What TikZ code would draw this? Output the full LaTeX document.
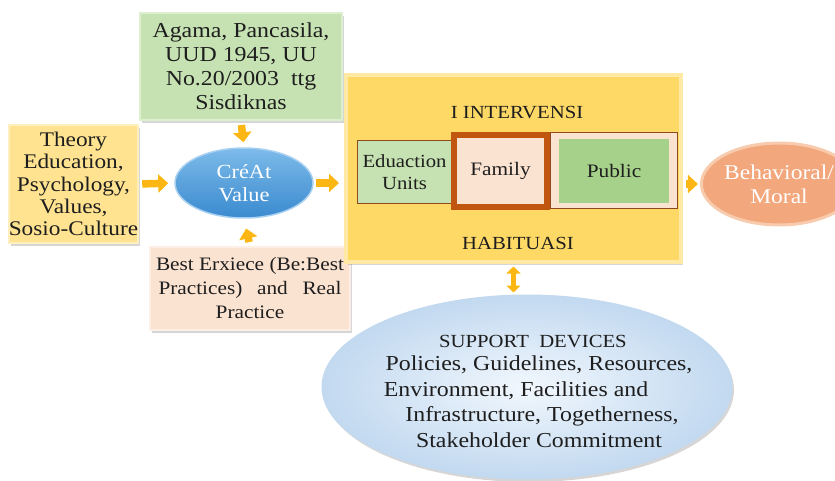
\documentclass[tikz,border=0pt]{standalone}
\usepackage{fontspec}
\setmainfont{Liberation Serif}[FakeStretch=1.12]
\usetikzlibrary{shapes.geometric,arrows.meta,shadows}

\definecolor{ink}{HTML}{1E1E1E}
\definecolor{greenfill}{HTML}{C6E2B2}
\definecolor{greenrim}{HTML}{DCEFCE}
\definecolor{theoryfill}{HTML}{FFE391}
\definecolor{theoryrim}{HTML}{FFEFBE}
\definecolor{pinkfill}{HTML}{FBE3D2}
\definecolor{pinkrim}{HTML}{FDEFE5}
\definecolor{yellowfill}{HTML}{FFD966}
\definecolor{yellowrim}{HTML}{FFE9A4}
\definecolor{brownline}{HTML}{8E4A1E}
\definecolor{familyline}{HTML}{C0560F}
\definecolor{publicgreen}{HTML}{A6D18A}
\definecolor{bluetop}{HTML}{7DBBEA}
\definecolor{bluebottom}{HTML}{3A8ACF}
\definecolor{bluerim}{HTML}{A9D0F0}
\definecolor{salmon}{HTML}{F3A77C}
\definecolor{salmonrim}{HTML}{F8CBAE}
\definecolor{skyin}{HTML}{F1F7FD}
\definecolor{skyout}{HTML}{C2D9F0}
\definecolor{arrowc}{HTML}{FCB714}

\begin{document}
\begin{tikzpicture}[x=1pt,y=-1pt,
  box/.style={rectangle, inner sep=0pt, align=center, text=ink},
  softshadow/.style={drop shadow={shadow xshift=2pt,shadow yshift=-3pt,opacity=0.16,fill=black}},
  bubble/.style={ellipse, inner sep=0pt, align=center},
  flow/.style={draw=arrowc, line width=7.5pt, -{Triangle[width=18pt,length=10pt]}},
  twoway/.style={draw=arrowc, line width=5pt, {Triangle[width=14pt,length=7pt]}-{Triangle[width=14pt,length=7pt]}}
]
\useasboundingbox (0,0) rectangle (835,481);
\clip (0,0) rectangle (835,481);

% source boxes
\node[box, softshadow, fill=greenfill, draw=greenrim, line width=2pt,
      minimum width=202pt, minimum height=107pt,
      font=\fontsize{21.3}{24}\selectfont] (green) at (241,66.5)
  {Agama, Pancasila,\\UUD 1945, UU\\No.20/2003\ \ ttg\\Sisdiknas};

\node[box, softshadow, fill=theoryfill, draw=theoryrim, line width=2pt,
      minimum width=125pt, minimum height=117pt,
      font=\fontsize{20.8}{22.3}\selectfont] (theory) at (73.5,184)
  {Theory\\Education,\\Psychology,\\Values,\\Sosio-Culture};

\node[box, softshadow, fill=pinkfill, draw=pinkrim, line width=2pt,
      minimum width=200pt, minimum height=83pt,
      font=\fontsize{19}{24}\selectfont] (best) at (250,288.5)
  {Best Erxiece (Be:Best\\\makebox[183pt][s]{Practices)\ \ and\ \ Real}\\Practice};

% value creation
\node[bubble, shade, top color=bluetop, bottom color=bluebottom, draw=bluerim,
      line width=1.5pt, minimum width=138pt, minimum height=70pt, text=white,
      font=\fontsize{20}{23}\selectfont] (creat) at (244,183)
  {CréAt\\Value};

% intervention block
\node[box, softshadow, fill=yellowfill, draw=yellowrim, line width=4pt,
      minimum width=335pt, minimum height=186pt] (big) at (513.5,168.5) {};
\node[box, font=\fontsize{18.5}{22}\selectfont] (intv) at (517,113) {I INTERVENSI};
\node[box, font=\fontsize{18.5}{22}\selectfont] (habit) at (518,243) {HABITUASI};

\node[box, fill=greenfill, draw=brownline, line width=1pt,
      minimum width=95pt, minimum height=63pt,
      font=\fontsize{18.5}{22}\selectfont] (edu) at (404.5,172.5)
  {Eduaction\\Units};
\node[box, fill=pinkfill, draw=brownline, line width=1pt,
      minimum width=127pt, minimum height=76pt] (pubframe) at (613.5,171) {};
\node[box, fill=publicgreen, minimum width=110pt, minimum height=64pt,
      font=\fontsize{19}{22}\selectfont] (public) at (614,171) {Public};
\node[box, fill=pinkfill, draw=familyline, line width=6pt,
      minimum width=93pt, minimum height=72pt,
      font=\fontsize{19}{22}\selectfont] (family) at (500.5,171) {Family};

% outcome
\node[bubble, fill=salmon, draw=salmonrim, line width=3pt,
      minimum width=152pt, minimum height=82pt, text=white,
      font=\fontsize{21}{24}\selectfont] (beh) at (779,184)
  {Behavioral/\\Moral};

% support devices
\node[bubble, softshadow, shade, inner color=skyin, outer color=skyout,
      draw=skyout, line width=1pt,
      minimum width=410pt, minimum height=184pt] (sup) at (527,387) {};
\node[box, font=\fontsize{21.3}{25.5}\selectfont] (suptext) at (539,391)
  {{\fontsize{18.5}{20}\selectfont SUPPORT\ \ DEVICES}\rule{12pt}{0pt}\\[-2pt]
   Policies, Guidelines, Resources,\\
   Environment, Facilities and\rule{46pt}{0pt}\\
   \rule{6pt}{0pt}Infrastructure, Togetherness,\\Stakeholder\ Commitment};

% connectors
\draw[flow, shorten <=3pt, shorten >=6pt] (theory.east) -- (creat.west);
\draw[flow, shorten <=4pt, shorten >=5pt] (green.south) -- (creat.north);
\draw[flow, shorten <=4pt, shorten >=10pt] (best.north) -- (creat.south);
\draw[flow, shorten <=2pt, shorten >=5pt] (creat.east) -- (creat.east -| big.west);
\draw[flow, shorten <=3pt, shorten >=2pt] (beh.west -| big.east) -- (beh.west);
\draw[twoway, shorten <=3pt, shorten >=2pt] (big.south) -- (big.south |- sup.north);
\end{tikzpicture}
\end{document}
